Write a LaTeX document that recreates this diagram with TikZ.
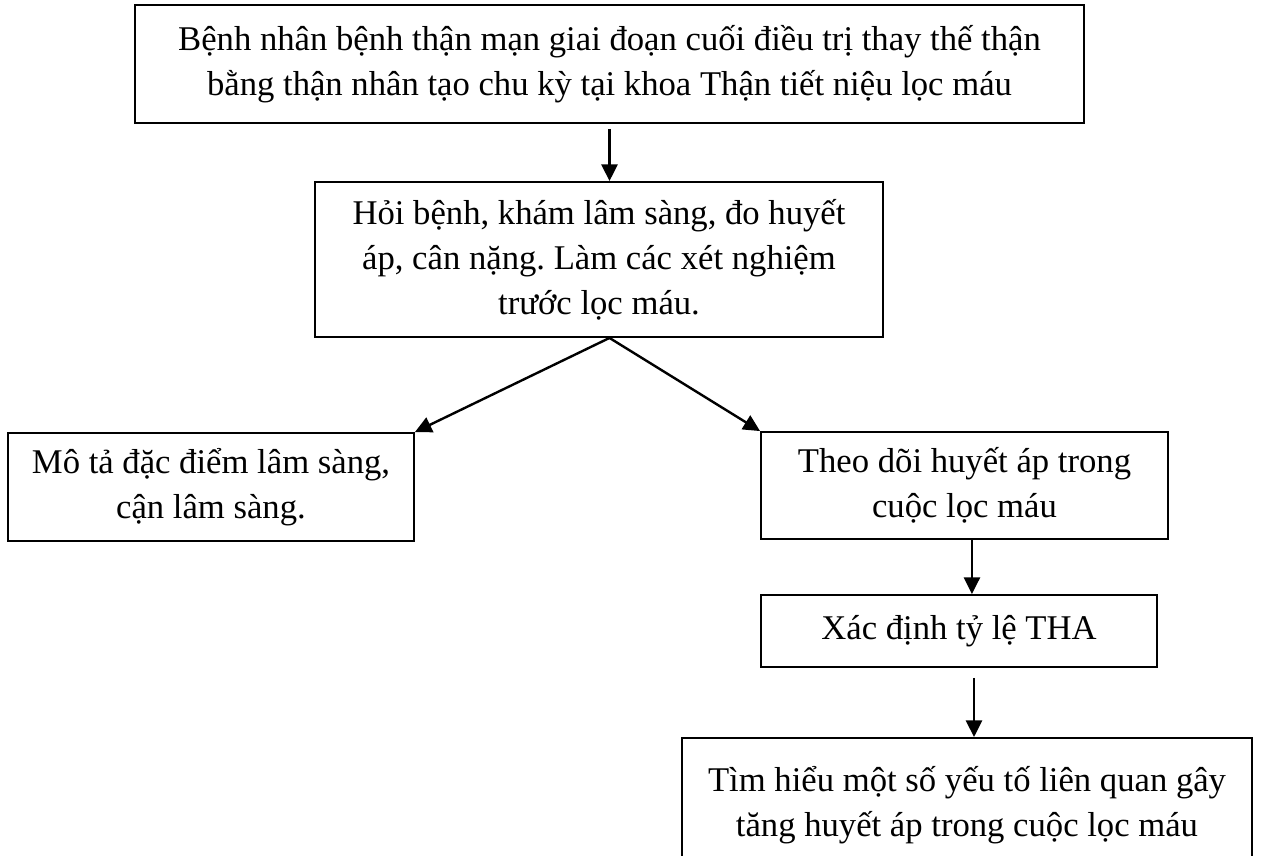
\documentclass[tikz,border=0pt]{standalone}
\usepackage{fontspec}
\setmainfont{Liberation Serif}
\usetikzlibrary{arrows.meta}
\begin{document}
\frenchspacing
\begin{tikzpicture}[x=0.75pt,y=-0.75pt,
  box/.style={draw, line width=1.4pt, align=center, inner sep=0pt,
    font=\fontsize{26}{33.75}\selectfont},
  arr/.style={line width=1.8pt, -{Triangle[length=12.5pt,width=12pt]}}]
\useasboundingbox (0,0) rectangle (1261,856);
\clip (0,0) rectangle (1261,856);
\node[box, minimum width=711.75pt, minimum height=88.5pt] (b1) at (609.5,64)
  {Bệnh nhân bệnh thận mạn giai đoạn cuối điều trị thay thế thận\\bằng thận nhân tạo chu kỳ tại khoa Thận tiết niệu lọc máu};
\node[box, minimum width=426pt, minimum height=116.25pt] (b2) at (599,259.5)
  {Hỏi bệnh, khám lâm sàng, đo huyết\\áp, cân nặng. Làm các xét nghiệm\\trước lọc máu.};
\node[box, minimum width=304.5pt, minimum height=81pt] (b3) at (211,487)
  {Mô tả đặc điểm lâm sàng,\\cận lâm sàng.};
\node[box, minimum width=305.25pt, minimum height=80.25pt] (b4) at (964.5,485.5)
  {Theo dõi huyết áp trong\\cuộc lọc máu};
\node[box, minimum width=297pt, minimum height=54pt] (b5) at (959,631)
  {Xác định tỷ lệ THA};
\node[box, minimum width=427.5pt, minimum height=100.5pt] (b6) at (967,805)
  {Tìm hiểu một số yếu tố liên quan gây\\tăng huyết áp trong cuộc lọc máu};
\coordinate (s1) at (b1.south);
\coordinate (sp) at (s1 |- b2.south);
\coordinate (s4) at ([xshift=5.6pt]b4.south);
\coordinate (s5) at ([xshift=11.25pt]b5.south);
\draw[arr, shorten <=3.75pt] (s1) -- (s1 |- b2.north);
\draw[arr] (sp) -- (b3.north east);
\draw[arr] (sp) -- (b4.north west);
\draw[arr] (s4) -- (s4 |- b5.north);
\draw[arr, shorten <=7.5pt] (s5) -- (s5 |- b6.north);
\end{tikzpicture}
\end{document}
